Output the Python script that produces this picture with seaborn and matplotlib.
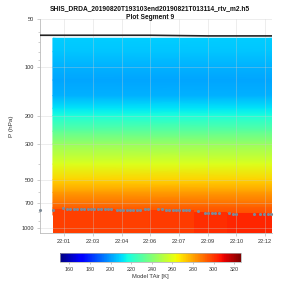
import numpy as np
import pandas as pd
import matplotlib
matplotlib.use("Agg")
import matplotlib.pyplot as plt
from matplotlib.ticker import FixedLocator, NullFormatter, FixedFormatter
import seaborn as sns

sns.set_theme(style="white")
plt.rcParams["font.family"] = ["Liberation Sans", "DejaVu Sans"]

# ---------------- data ----------------
title_text = "SHIS_DRDA_20190820T193103end20190821T013114_rtv_m2.h5"
subtitle_text = "Plot Segment 9"

# atmospheric temperature profile (hPa, K)
profile_pressure = [66, 80, 100, 120, 150, 180, 200, 250, 300, 400, 500, 600, 700, 750, 830]
profile_temp = [208, 207, 203, 201, 203, 212, 218, 232, 244, 259, 271, 281, 289, 293, 296]
field_time = [0.91, 12.37]  # minutes after 22:00

# near-surface blocks
block_edges = [0.91, 4.15, 5.95, 8.3, 10.0, 12.37]
block_top = [766, 772, 768, 797, 810]
block_temp = [298, 298, 299, 302, 303]
bottom_pressure = 1075

# black line (top)
line_time = [0.23, 6.0, 9.0, 12.37]
line_pressure = [63.2, 63.2, 63.8, 63.8]

# gray dots (surface pressure)
dot_time = [0.24, 0.91, 1.46, 1.64, 1.81, 1.99, 2.19, 2.37, 2.56, 2.74, 2.91, 3.08,
            3.26, 3.43, 3.61, 3.78, 3.96, 4.25, 4.43, 4.60, 4.78, 4.95, 5.12, 5.30,
            5.47, 5.70, 5.90, 6.43, 6.60, 6.83, 7.00, 7.18, 7.35, 7.52, 7.70, 7.87,
            8.05, 8.48, 8.84, 9.01, 9.22, 9.39, 9.57, 10.11, 10.32, 10.49, 11.41,
            11.76, 11.93, 12.14, 12.32]
dot_pressure = [770, 770, 752, 757, 757, 757, 757, 757, 757, 757, 757, 757,
                757, 757, 757, 757, 757, 777, 777, 777, 777, 777, 777, 777,
                777, 764, 764, 764, 764, 772, 772, 772, 772, 772, 772, 772,
                772, 786, 804, 804, 804, 804, 804, 804, 819, 819, 819,
                819, 819, 819, 819]

xtick_pos = [1.5, 3.0, 4.5, 6.0, 7.5, 9.0, 10.5, 12.0]
xtick_labels = ["22:01", "22:03", "22:04", "22:06", "22:07", "22:09", "22:10", "22:12"]
ytick_pos = [50, 100, 200, 300, 500, 700, 1000]
yminor_pos = [60, 70, 80, 90, 400, 600, 800, 900]
cbar_ticks = [160, 180, 200, 220, 240, 260, 280, 300, 320]
vmin, vmax = 151, 326
xlim = (0.23, 12.37)

# ---------------- figure ----------------
fig = plt.figure(figsize=(3, 3), dpi=100)
ax = fig.add_axes([0.133, 0.223, 0.774, 0.714])
cmap = plt.get_cmap("jet")

C = np.column_stack([profile_temp, profile_temp])
mesh = ax.pcolormesh(field_time, profile_pressure, C, shading="gouraud",
                     cmap=cmap, vmin=vmin, vmax=vmax, zorder=1)

for i in range(len(block_temp)):
    ax.pcolormesh(block_edges[i:i + 2], [block_top[i], bottom_pressure],
                  np.array([[block_temp[i]]]), shading="flat",
                  cmap=cmap, vmin=vmin, vmax=vmax, zorder=2)

df_line = pd.DataFrame({"t": line_time, "p": line_pressure})
sns.lineplot(data=df_line, x="t", y="p", ax=ax, color="#222222", lw=1.2, zorder=4)

df_dots = pd.DataFrame({"t": dot_time, "p": dot_pressure})
sns.scatterplot(data=df_dots, x="t", y="p", ax=ax, color="#7d8a96", s=5,
                linewidth=0, zorder=5, clip_on=False)

ax.set_yscale("log")
ax.set_ylim(bottom_pressure, 50)
ax.set_xlim(*xlim)
ax.yaxis.set_major_locator(FixedLocator(ytick_pos))
ax.yaxis.set_major_formatter(FixedFormatter([str(v) for v in ytick_pos]))
ax.yaxis.set_minor_locator(FixedLocator(yminor_pos))
ax.yaxis.set_minor_formatter(NullFormatter())
ax.set_xticks(xtick_pos)
ax.set_xticklabels(xtick_labels)

ax.grid(True, which="major", color="#cccccc", lw=0.6, alpha=0.4, zorder=3)
ax.set_axisbelow(False)
for s in ["top", "right"]:
    ax.spines[s].set_visible(False)
for s in ["left", "bottom"]:
    ax.spines[s].set_color("#bbbbbb")
    ax.spines[s].set_linewidth(0.6)
ax.tick_params(axis="both", which="both", labelsize=4.1, colors="#bbbbbb",
               labelcolor="#333333", length=2, width=0.5, pad=2)
ax.tick_params(axis="both", which="major", left=True, bottom=True)
ax.tick_params(axis="y", which="minor", left=True, length=1.5)
ax.set_xlabel("")
ax.set_ylabel("P (hPa)", fontsize=4.6, color="#333333", labelpad=6)

fig.text(0.5, 0.972, title_text, ha="center", va="center",
         fontsize=4.8, fontweight="bold", color="#111111")
fig.text(0.5, 0.942, subtitle_text, ha="center", va="center",
         fontsize=4.8, fontweight="bold", color="#111111")

cax = fig.add_axes([0.2, 0.127, 0.602, 0.03])
cb = fig.colorbar(mesh, cax=cax, orientation="horizontal", ticks=cbar_ticks)
cb.outline.set_edgecolor("#aaaaaa")
cb.outline.set_linewidth(0.5)
cax.tick_params(labelsize=3.9, colors="#aaaaaa", labelcolor="#333333",
                length=1.5, width=0.5, pad=2)
cb.set_label("Model TAir [K]", fontsize=4.2, color="#333333", labelpad=1.5)

fig.savefig("out.png", dpi=100)
